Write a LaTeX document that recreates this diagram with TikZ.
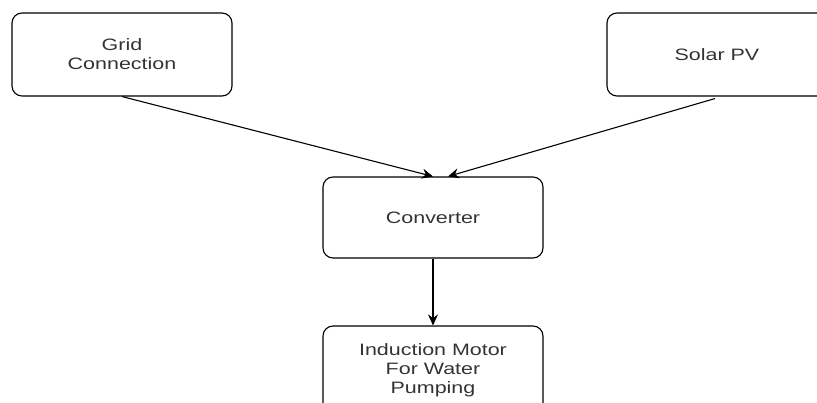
\documentclass[tikz,border=0pt]{standalone}
\usepackage{fontspec}
\setmainfont[FakeStretch=1.3]{Liberation Sans}
\usetikzlibrary{arrows.meta}
\definecolor{txtgray}{RGB}{51,51,51}
\tikzset{blok/.style={draw,rounded corners=10pt,line width=1.1pt,minimum width=220pt,align=center,text=txtgray,font=\fontsize{16.5}{19}\selectfont}}
\begin{document}
\begin{tikzpicture}[>={Stealth[length=11pt,width=10pt]},x=1pt,y=1pt]
		\useasboundingbox (0,0) rectangle (817,-403);
		\node[blok,minimum height=83pt] (grid) at (122,-54.5) {Grid\\Connection};
		\node[blok,minimum height=83pt] (solar) at (717,-54.5) {Solar PV};
		\node[blok,minimum height=81pt] (conv) at (433,-217.5) {Converter};
		\node[blok,minimum height=88pt] (motor) at (433,-370) {Induction Motor\\For Water\\Pumping};
		\draw[->,line width=1.1pt] (grid.south) -- (conv.north);
		\draw[->,line width=1.1pt] ([xshift=-2pt,yshift=-2pt]solar.south) -- ([xshift=15pt]conv.north);
		\draw[->,line width=1.1pt] (conv.south) -- (motor.north);
		\end{tikzpicture}
\end{document}
